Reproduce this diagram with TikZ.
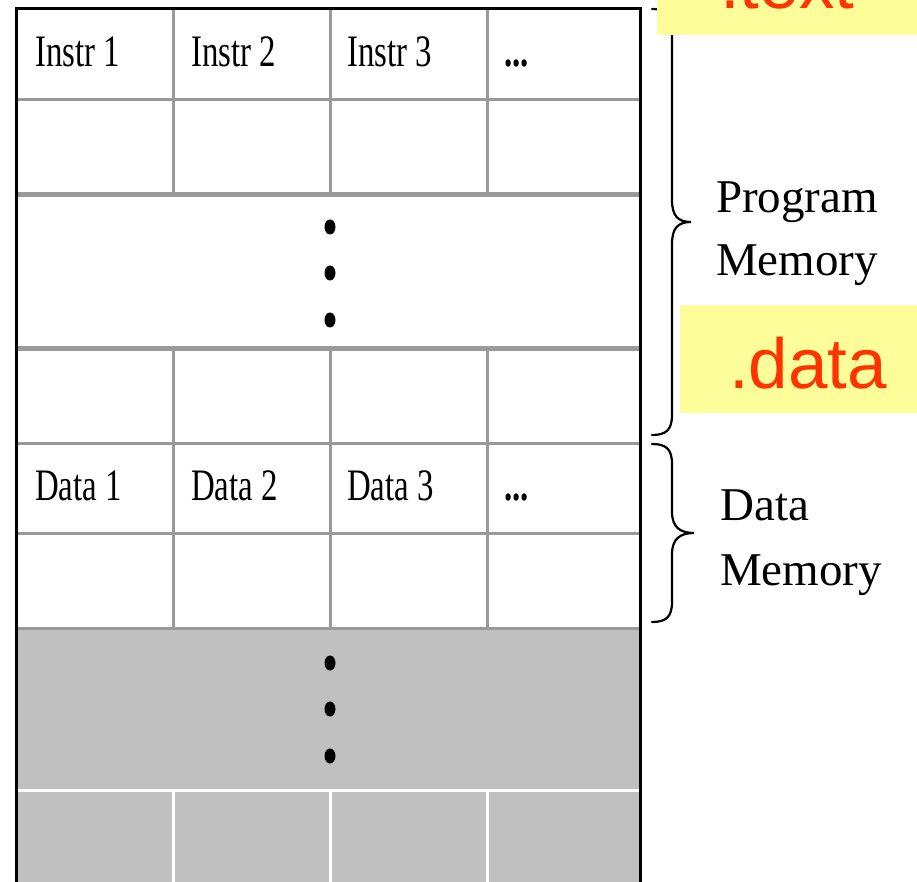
\documentclass[tikz,border=0pt]{standalone}
\usepackage{fontspec}
\setmainfont{Liberation Serif}
\newfontfamily\labelsans{Liberation Sans}
\definecolor{gridgray}{HTML}{9A9A9A}
\definecolor{fillgray}{HTML}{C0C0C0}
\definecolor{hiyellow}{HTML}{FDFD9A}
\definecolor{hired}{HTML}{FF3300}
\tikzset{
  cell/.style={anchor=base west, inner sep=0pt, font=\fontsize{45}{54}\selectfont},
  side/.style={anchor=base west, inner sep=0pt, font=\fontsize{47}{56}\selectfont},
  tag/.style={anchor=base west, inner sep=0pt, text=hired, font=\labelsans\fontsize{71}{80}\selectfont},
  thin grid/.style={draw=gridgray, line width=3pt},
  thick grid/.style={draw=gridgray, line width=5pt},
  vdot/.style={fill=black},
  bracepath/.style={draw=black, line width=2.2pt, line cap=round},
}
\newcommand{\narrow}[1]{\scalebox{0.73}[1]{#1}}
\begin{document}
\begin{tikzpicture}[x=1pt, y=-1pt]
  \useasboundingbox (0,0) rectangle (917,882);
  \fill[white] (0,0) rectangle (917,882);

  % unused memory region at the bottom
  \fill[fillgray] (16.5,628) rectangle (640.5,892);

  % row separators
  \draw[thin grid] (16.5,100) -- (640.5,100);
  \draw[thick grid] (16.5,194.5) -- (640.5,194.5);
  \draw[thick grid] (16.5,348.5) -- (640.5,348.5);
  \draw[thin grid] (16.5,443.5) -- (640.5,443.5);
  \draw[thin grid] (16.5,533.5) -- (640.5,533.5);
  \draw[thin grid] (16.5,628.5) -- (640.5,628.5);
  \draw[draw=white, line width=3pt] (16.5,790) -- (640.5,790);

  % column separators
  \foreach \cx in {173,330,487} {
    \draw[thin grid] (\cx,8.5) -- (\cx,192);
    \draw[thin grid] (\cx,351) -- (\cx,627);
    \draw[draw=white, line width=3pt] (\cx,791) -- (\cx,892);
  }

  % outer frame
  \draw[black, line width=3pt] (16.5,892) -- (16.5,8.5) -- (640.5,8.5) -- (640.5,892);

  % cell contents
  \node[cell] (i1) at (35,67) {\narrow{Instr 1}};
  \node[cell] (i2) at (191,67) {\narrow{Instr 2}};
  \node[cell] (i3) at (347,67) {\narrow{Instr 3}};
  \node[cell] (i4) at (504,67) {\narrow{\bfseries ...}};
  \node[cell] (d1) at (35,500) {\narrow{Data 1}};
  \node[cell] (d2) at (191,500) {\narrow{Data 2}};
  \node[cell] (d3) at (347,500) {\narrow{Data 3}};
  \node[cell] (d4) at (504,500) {\narrow{\bfseries ...}};

  % vertical ellipses
  \foreach \dy in {227,273,320,663,709,756}
    \fill[vdot] (330,\dy) ellipse [x radius=5.5, y radius=7.5];

  % braces
  \draw[bracepath] (652,9) .. controls (666,9) and (672,14) .. (672,30)
    -- (672,200) .. controls (672,216) and (678,222) .. (691,222)
    .. controls (678,222) and (672,228) .. (672,244)
    -- (672,415) .. controls (672,430) and (666,435) .. (652,435);
  \draw[bracepath] (652,444) .. controls (666,444) and (672,449) .. (672,464)
    -- (672,512) .. controls (672,527) and (680,533) .. (694,533)
    .. controls (680,533) and (672,539) .. (672,554)
    -- (672,602) .. controls (672,617) and (666,622) .. (652,622);

  % brace labels
  \node[side] (pm1) at (716,213) {Program};
  \node[side] (pm2) at (716,276) {Memory};
  \node[side] (dm1) at (720,520) {Data};
  \node[side] (dm2) at (720,585) {Memory};

  % section tags
  \fill[hiyellow] (657,0) rectangle (917,35);
  \begin{scope}
    \clip (0,0) rectangle (917,35);
    \node[tag] (txt) at (720,9) {.text};
  \end{scope}
  \fill[hiyellow] (680,305) rectangle (917,413);
  \node[tag] (dat) at (729,388) {.data};
\end{tikzpicture}
\end{document}
